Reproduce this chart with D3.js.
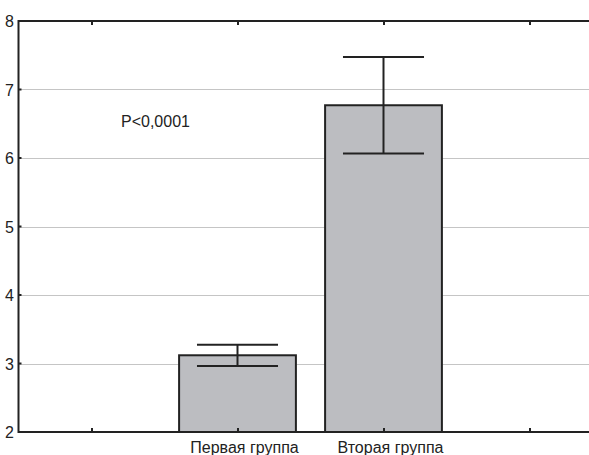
<!DOCTYPE html>
<html><head><meta charset="utf-8">
<script src="https://cdn.jsdelivr.net/npm/d3@7"></script>
<style>html,body{margin:0;background:#fff;overflow:hidden;} svg{display:block;font-family:Arial,"Liberation Sans",sans-serif;}</style>
</head><body>
<script>
const categories = ["", "Первая группа", "Вторая группа", ""];
const means = [null, 3.12, 6.77, null];
const errors = [null, 0.155, 0.705, null];
const yTicks = [2, 3, 4, 5, 6, 7, 8];
const annotation = "P<0,0001";

const W = 589, H = 455;
const svg = d3.select("body").append("svg").attr("width", W).attr("height", H);
const x = d3.scaleBand().domain(d3.range(categories.length)).range([18.5, 602.5]).paddingInner(0).paddingOuter(0);
const y = d3.scaleLinear().domain([2, 8]).range([432, 21]);
const bw = x.bandwidth() * 0.8;
const cap = x.bandwidth() * 0.555;
const xEnd = W + 2;

// grid
svg.append("g").selectAll("line").data(yTicks.filter(d => d > 2 && d < 8)).join("line")
  .attr("x1", x.range()[0]).attr("x2", xEnd)
  .attr("y1", d => Math.round(y(d)) + 0.5).attr("y2", d => Math.round(y(d)) + 0.5)
  .attr("stroke", "#8a8a8a").attr("stroke-width", 1.2).attr("stroke-dasharray", "1,1");

const data = categories.map((c, i) => ({c, i, m: means[i], e: errors[i]})).filter(d => d.m != null);

// bars
svg.append("g").selectAll("rect").data(data).join("rect")
  .attr("x", d => x(d.i) + (x.bandwidth() - bw) / 2)
  .attr("y", d => y(d.m))
  .attr("width", bw)
  .attr("height", d => y(2) - y(d.m))
  .attr("fill", "#bcbdc1").attr("stroke", "#222").attr("stroke-width", 2);

// error bars
const eg = svg.append("g").attr("stroke", "#222").attr("stroke-width", 2);
data.forEach(d => {
  const cx = x(d.i) + x.bandwidth() / 2;
  eg.append("line").attr("x1", cx).attr("x2", cx).attr("y1", y(d.m + d.e)).attr("y2", y(d.m - d.e));
  [d.m + d.e, d.m - d.e].forEach(v => {
    eg.append("line").attr("x1", cx - cap / 2).attr("x2", cx + cap / 2).attr("y1", y(v)).attr("y2", y(v));
  });
});

// axes frame (left, top, bottom)
const fr = svg.append("g").attr("stroke", "#222").attr("stroke-width", 2).attr("fill", "none");
fr.append("path").attr("d", `M${xEnd},${y(8)}H${x.range()[0]}V${y(2)}H${xEnd}`);

// x ticks (inward, bottom and top)
const xt = svg.append("g").attr("stroke", "#222").attr("stroke-width", 2);
categories.forEach((c, i) => {
  const cx = Math.round(x(i) + x.bandwidth() / 2);
  xt.append("line").attr("x1", cx).attr("x2", cx).attr("y1", y(2)).attr("y2", y(2) - 4);
  xt.append("line").attr("x1", cx).attr("x2", cx).attr("y1", y(8)).attr("y2", y(8) + 4);
});
// y ticks inward
yTicks.forEach(t => {
  xt.append("line").attr("x1", x.range()[0]).attr("x2", x.range()[0] + 3).attr("y1", y(t)).attr("y2", y(t));
});

// y tick labels
svg.append("g").selectAll("text").data(yTicks).join("text")
  .attr("x", 14).attr("y", d => y(d) + 6)
  .attr("text-anchor", "end").attr("font-size", 16).attr("fill", "#222").text(d => d);

// category labels
svg.append("g").selectAll("text").data(categories).join("text")
  .attr("x", (d, i) => x(i) + x.bandwidth() / 2 + 7).attr("y", 453)
  .attr("text-anchor", "middle").attr("font-size", 16).attr("fill", "#222").text(d => d);

svg.append("text").attr("x", 121).attr("y", 127).attr("font-size", 16).attr("fill", "#222").text(annotation);
</script>
</body></html>
